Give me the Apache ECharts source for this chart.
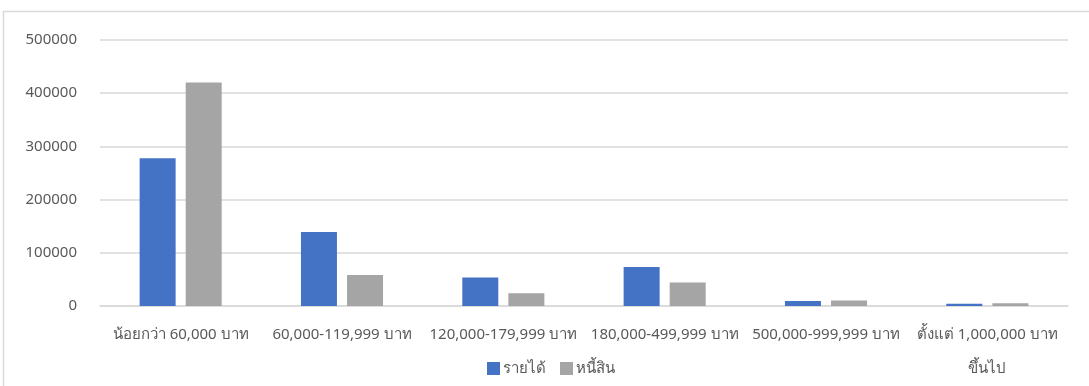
<!DOCTYPE html>
<html>
<head>
<meta charset="utf-8">
<script src="https://cdn.jsdelivr.net/npm/echarts@6/dist/echarts.min.js"></script>
<style>
  html, body { margin: 0; padding: 0; background: #ffffff; }
  #chart { width: 1089px; height: 386px; }
</style>
</head>
<body>
<div id="chart"></div>
<script>
// Income brackets (per year) and the amounts for each group
const categories = [
  'น้อยกว่า 60,000 บาท',
  '60,000-119,999 บาท',
  '120,000-179,999 บาท',
  '180,000-499,999 บาท',
  '500,000-999,999 บาท',
  'ตั้งแต่ 1,000,000 บาท\nขึ้นไป'
];
const incomeValues = [277500, 139000, 53500, 73500, 9400, 4100];
const debtValues = [420000, 58500, 24000, 44000, 10300, 5300];
const seriesNames = ['รายได้', 'หนี้สิน'];

const textColor = '#595959';
const fontFamily = '"Noto Sans", "DejaVu Sans", sans-serif';

const chart = echarts.init(document.getElementById('chart'), null, { renderer: 'canvas' });

chart.setOption({
  animation: false,
  backgroundColor: '#ffffff',
  textStyle: { fontFamily: fontFamily },
  graphic: [{
    type: 'rect',
    shape: { x: 3.5, y: 11.5, width: 1100, height: 400 },
    style: { fill: 'none', stroke: '#d9d9d9', lineWidth: 1.5 },
    silent: true,
    z: -1
  }],
  grid: { left: 100, right: 21, top: 40, bottom: 78.5, containLabel: false },
  legend: {
    data: seriesNames,
    left: 487,
    top: 361,
    padding: 0,
    itemWidth: 13,
    itemHeight: 13,
    itemGap: 14,
    icon: 'rect',
    textStyle: { color: textColor, fontSize: 15, fontFamily: fontFamily, padding: [0, 0, 0, -2] }
  },
  xAxis: {
    type: 'category',
    data: categories,
    axisLine: { show: true, lineStyle: { color: '#d9d9d9', width: 1.5 } },
    axisTick: { show: false },
    axisLabel: {
      color: textColor,
      fontSize: 15,
      fontFamily: fontFamily,
      interval: 0,
      margin: 12,
      lineHeight: 34
    }
  },
  yAxis: {
    type: 'value',
    min: 0,
    max: 500000,
    interval: 100000,
    axisLine: { show: false },
    axisTick: { show: false },
    splitLine: { lineStyle: { color: '#d9d9d9', width: 1.5 } },
    axisLabel: {
      color: textColor,
      fontSize: 15,
      fontFamily: fontFamily,
      margin: 23,
      formatter: function (v) { return String(v); }
    }
  },
  series: [
    {
      name: seriesNames[0],
      type: 'bar',
      data: incomeValues,
      barWidth: 36,
      barGap: '28%',
      itemStyle: { color: '#4472C4' }
    },
    {
      name: seriesNames[1],
      type: 'bar',
      data: debtValues,
      barWidth: 36,
      itemStyle: { color: '#A5A5A5' }
    }
  ]
});
</script>
</body>
</html>
